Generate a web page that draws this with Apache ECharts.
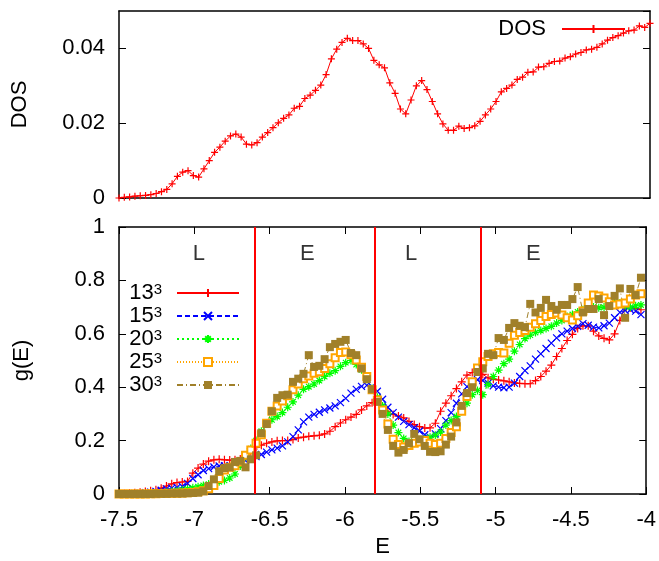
<!DOCTYPE html>
<html>
<head>
<meta charset="utf-8">
<script src="https://cdn.jsdelivr.net/npm/echarts@6/dist/echarts.min.js"></script>
<style>
  html, body { margin: 0; padding: 0; background: #fff; }
  #chart { width: 659px; height: 561px; }
</style>
</head>
<body>
<div id="chart"></div>
<script>
// energy grid shared by all curves
const E = [
  -7.5, -7.465, -7.43, -7.395, -7.36, -7.325, -7.29, -7.255, -7.22, -7.185,
  -7.15, -7.115, -7.08, -7.045, -7.01, -6.975, -6.94, -6.905, -6.87, -6.835,
  -6.8, -6.765, -6.73, -6.695, -6.66, -6.625, -6.59, -6.555, -6.52, -6.485,
  -6.45, -6.415, -6.38, -6.345, -6.31, -6.275, -6.24, -6.205, -6.17, -6.135,
  -6.1, -6.065, -6.03, -5.995, -5.96, -5.925, -5.89, -5.855, -5.82, -5.785,
  -5.75, -5.715, -5.68, -5.645, -5.61, -5.575, -5.54, -5.505, -5.47, -5.435,
  -5.4, -5.365, -5.33, -5.295, -5.26, -5.225, -5.19, -5.155, -5.12, -5.085,
  -5.05, -5.015, -4.98, -4.945, -4.91, -4.875, -4.84, -4.805, -4.77, -4.735,
  -4.7, -4.665, -4.63, -4.595, -4.56, -4.525, -4.49, -4.455, -4.42, -4.385,
  -4.35, -4.315, -4.28, -4.245, -4.21, -4.175, -4.14, -4.105, -4.07, -4.035, -4.0
];

const dos = [
  0.0000, 0.0002, 0.0003, 0.0005, 0.0006, 0.0007, 0.0009, 0.0012, 0.0017, 0.0023,
  0.0038, 0.0058, 0.0069, 0.0073, 0.0060, 0.0056, 0.0078, 0.0100, 0.0122, 0.0136,
  0.0152, 0.0166, 0.0171, 0.0163, 0.0144, 0.0142, 0.0148, 0.0163, 0.0175, 0.0188,
  0.0201, 0.0213, 0.0222, 0.0240, 0.0245, 0.0266, 0.0275, 0.0288, 0.0302, 0.0330,
  0.0372, 0.0398, 0.0416, 0.0427, 0.0421, 0.0421, 0.0412, 0.0400, 0.0368, 0.0356,
  0.0348, 0.0308, 0.0280, 0.0238, 0.0225, 0.0262, 0.0300, 0.0314, 0.0290, 0.0258,
  0.0225, 0.0198, 0.0181, 0.0181, 0.0192, 0.0186, 0.0188, 0.0193, 0.0205, 0.0222,
  0.0238, 0.0258, 0.0284, 0.0293, 0.0302, 0.0317, 0.0323, 0.0336, 0.0337, 0.0350,
  0.0351, 0.0360, 0.0365, 0.0366, 0.0374, 0.0378, 0.0385, 0.0389, 0.0396, 0.0398,
  0.0403, 0.0412, 0.0422, 0.0429, 0.0434, 0.0441, 0.0447, 0.0449, 0.0460, 0.0456, 0.0467
];

const g13 = [
  0.000, 0.002, 0.003, 0.005, 0.007, 0.009, 0.012, 0.016, 0.022, 0.030,
  0.038, 0.043, 0.045, 0.047, 0.078, 0.097, 0.112, 0.123, 0.128, 0.130,
  0.128, 0.127, 0.128, 0.131, 0.143, 0.158, 0.175, 0.183, 0.190, 0.195,
  0.199, 0.200, 0.200, 0.204, 0.210, 0.213, 0.216, 0.218, 0.220, 0.225,
  0.235, 0.252, 0.266, 0.278, 0.288, 0.298, 0.315, 0.330, 0.342, 0.348,
  0.325, 0.310, 0.298, 0.292, 0.285, 0.272, 0.260, 0.252, 0.247, 0.248,
  0.265, 0.310, 0.340, 0.368, 0.395, 0.420, 0.445, 0.455, 0.458, 0.448,
  0.435, 0.430, 0.427, 0.424, 0.420, 0.416, 0.414, 0.413, 0.413, 0.425,
  0.440, 0.460, 0.483, 0.515, 0.545, 0.575, 0.598, 0.620, 0.630, 0.630,
  0.610, 0.592, 0.583, 0.577, 0.600, 0.650, 0.700, 0.698, 0.695, 0.690
];

const g15 = [
  0.000, 0.000, 0.001, 0.002, 0.003, 0.005, 0.007, 0.010, 0.014, 0.019,
  0.022, 0.025, 0.028, 0.040, 0.058, 0.072, 0.088, 0.095, 0.101, 0.105,
  0.106, 0.105, 0.107, 0.115, 0.125, 0.132, 0.140, 0.148, 0.157, 0.165,
  0.172, 0.180, 0.195, 0.215, 0.240, 0.270, 0.288, 0.298, 0.306, 0.315,
  0.322, 0.330, 0.342, 0.358, 0.378, 0.392, 0.403, 0.407, 0.402, 0.385,
  0.355, 0.325, 0.305, 0.288, 0.272, 0.260, 0.248, 0.236, 0.222, 0.213,
  0.225, 0.245, 0.275, 0.305, 0.340, 0.375, 0.402, 0.420, 0.428, 0.425,
  0.415, 0.405, 0.400, 0.398, 0.400, 0.415, 0.440, 0.462, 0.480, 0.505,
  0.525, 0.545, 0.565, 0.585, 0.600, 0.610, 0.620, 0.628, 0.638, 0.632,
  0.625, 0.622, 0.630, 0.640, 0.660, 0.680, 0.688, 0.690, 0.685, 0.672
];

const g20 = [
  0.000, 0.000, 0.000, 0.001, 0.001, 0.002, 0.003, 0.004, 0.005, 0.007,
  0.009, 0.012, 0.015, 0.019, 0.023, 0.027, 0.032, 0.037, 0.042, 0.046,
  0.051, 0.060, 0.075, 0.105, 0.140, 0.170, 0.200, 0.235, 0.265, 0.278,
  0.290, 0.305, 0.325, 0.345, 0.370, 0.392, 0.402, 0.412, 0.425, 0.440,
  0.452, 0.462, 0.478, 0.492, 0.500, 0.485, 0.465, 0.430, 0.395, 0.362,
  0.330, 0.300, 0.258, 0.230, 0.208, 0.197, 0.190, 0.195, 0.205, 0.213,
  0.220, 0.232, 0.258, 0.275, 0.290, 0.310, 0.340, 0.372, 0.388, 0.372,
  0.410, 0.440, 0.464, 0.488, 0.505, 0.535, 0.560, 0.582, 0.595, 0.605,
  0.612, 0.620, 0.628, 0.640, 0.650, 0.665, 0.672, 0.682, 0.690, 0.697,
  0.700, 0.698, 0.700, 0.710, 0.720, 0.715, 0.705, 0.700, 0.705, 0.708
];

const g25 = [
  0.000, 0.000, 0.000, 0.000, 0.000, 0.000, 0.001, 0.001, 0.002, 0.002,
  0.003, 0.003, 0.004, 0.005, 0.006, 0.008, 0.012, 0.020, 0.032, 0.058,
  0.090, 0.100, 0.106, 0.120, 0.145, 0.165, 0.190, 0.222, 0.265, 0.310,
  0.330, 0.348, 0.368, 0.390, 0.412, 0.432, 0.442, 0.452, 0.458, 0.470,
  0.488, 0.510, 0.530, 0.532, 0.522, 0.502, 0.475, 0.440, 0.390, 0.352,
  0.315, 0.262, 0.205, 0.185, 0.176, 0.182, 0.190, 0.195, 0.200, 0.190,
  0.185, 0.190, 0.208, 0.230, 0.252, 0.310, 0.365, 0.420, 0.472, 0.495,
  0.515, 0.525, 0.530, 0.528, 0.565, 0.595, 0.605, 0.612, 0.625, 0.638,
  0.650, 0.665, 0.672, 0.678, 0.670, 0.660, 0.652, 0.668, 0.685, 0.715,
  0.745, 0.742, 0.734, 0.720, 0.708, 0.712, 0.715, 0.730, 0.745, 0.750
];

const g30 = [
  0.000, 0.000, 0.000, 0.000, 0.000, 0.000, 0.000, 0.001, 0.001, 0.001,
  0.002, 0.002, 0.002, 0.003, 0.004, 0.005, 0.010, 0.030, 0.055, 0.085,
  0.097, 0.100, 0.120, 0.124, 0.100, 0.130, 0.145, 0.228, 0.262, 0.310,
  0.360, 0.370, 0.372, 0.420, 0.432, 0.450, 0.520, 0.476, 0.480, 0.505,
  0.550, 0.562, 0.570, 0.577, 0.528, 0.520, 0.470, 0.430, 0.392, 0.345,
  0.300, 0.240, 0.180, 0.155, 0.165, 0.190, 0.225, 0.205, 0.180, 0.158,
  0.157, 0.160, 0.185, 0.215, 0.268, 0.330, 0.378, 0.400, 0.457, 0.470,
  0.525, 0.520, 0.584, 0.577, 0.622, 0.640, 0.630, 0.625, 0.712, 0.680,
  0.697, 0.727, 0.704, 0.690, 0.708, 0.708, 0.730, 0.775, 0.680, 0.693,
  0.693, 0.730, 0.670, 0.704, 0.742, 0.770, 0.660, 0.768, 0.745, 0.810
];

const sizeNames = ['13', '15', '20', '25', '30'];
const boundaries = [-6.6, -5.8, -5.1];
const regionNames = ['L', 'E', 'L', 'E'];
const regionE = [-6.97, -6.25, -5.56, -4.75];
const regionY = 0.9;

const FONT = "'Liberation Sans', Arial, sans-serif";
const FS = 22;
const BLACK = '#000';

const pts = (ys) => ys.map((y, i) => [E[i], y]);

const chart = echarts.init(document.getElementById('chart'), null, { renderer: 'canvas' });

function xAx(grid, pos, labels, extra) {
  return Object.assign({
    type: 'value', gridIndex: grid, position: pos,
    min: -7.5, max: -4, interval: 0.5,
    axisLine: { show: true, onZero: false, lineStyle: { color: BLACK, width: 1.5 } },
    axisTick: { show: grid === 1, inside: true, length: 7, lineStyle: { color: BLACK, width: 1 } },
    axisLabel: { show: labels, color: BLACK, fontSize: FS, fontFamily: FONT, margin: 15 },
    splitLine: { show: false }
  }, extra || {});
}

function yAx(grid, pos, labels, max, interval, extra) {
  return Object.assign({
    type: 'value', gridIndex: grid, position: pos,
    min: 0, max: max, interval: interval,
    axisLine: { show: true, onZero: false, lineStyle: { color: BLACK, width: 1.5 } },
    axisTick: { show: true, inside: true, length: 7, lineStyle: { color: BLACK, width: 1 } },
    axisLabel: { show: labels, color: BLACK, fontSize: FS, fontFamily: FONT, margin: 14, showMaxLabel: max === 1 },
    splitLine: { show: false }
  }, extra || {});
}

const nameStyle = { color: BLACK, fontSize: FS, fontFamily: FONT };

const plusPath = 'path://M0,5L10,5M5,0L5,10';
const crossPath = 'path://M0,0L10,10M10,0L0,10';
const starPath = 'path://M5,0L5,10M0,5L10,5M1.5,1.5L8.5,8.5M8.5,1.5L1.5,8.5';

function gSeries(name, ys, color, dash, symbol, size, itemStyle) {
  return {
    name: name, type: 'line', xAxisIndex: 2, yAxisIndex: 2,
    data: pts(ys), symbol: symbol, symbolSize: size, showAllSymbol: true,
    lineStyle: { color: color, width: 1, type: dash },
    itemStyle: itemStyle,
    emphasis: { disabled: true }
  };
}

const option = {
  animation: false,
  backgroundColor: '#fff',
  grid: [
    { left: 119, top: 11, width: 531, height: 187 },
    { left: 119, top: 227, width: 531, height: 267 }
  ],
  xAxis: [
    xAx(0, 'bottom', false),
    xAx(0, 'top', false),
    xAx(1, 'bottom', true, { name: 'E', nameLocation: 'middle', nameGap: 42, nameTextStyle: nameStyle }),
    xAx(1, 'top', false)
  ],
  yAxis: [
    yAx(0, 'left', true, 0.05, 0.02, { name: 'DOS', nameLocation: 'middle', nameGap: 88, nameTextStyle: nameStyle }),
    yAx(0, 'right', false, 0.05, 0.02),
    yAx(1, 'left', true, 1, 0.2, { name: 'g(E)', nameLocation: 'middle', nameGap: 86, nameTextStyle: nameStyle }),
    yAx(1, 'right', false, 1, 0.2)
  ],
  legend: [
    {
      data: ['DOS'], right: 33, top: 18, padding: 0,
      align: 'right', itemWidth: 63, itemHeight: 10,
      textStyle: { color: BLACK, fontSize: FS, fontFamily: FONT, lineHeight: 22, padding: [0, 11, 0, 0] }
    },
    {
      data: sizeNames, orient: 'vertical', right: 419, top: 282, padding: 0,
      align: 'right', itemWidth: 62, itemHeight: 10, itemGap: 1,
      formatter: (n) => '{n|' + n + '}{s|3}',
      textStyle: {
        color: BLACK, fontFamily: FONT, padding: [0, 10, 0, 0],
        rich: {
          n: { fontSize: FS, lineHeight: 22, fontFamily: FONT, color: BLACK },
          s: { fontSize: 15, lineHeight: 13, verticalAlign: 'top', fontFamily: FONT, color: BLACK }
        }
      }
    }
  ],
  series: [
    {
      name: 'DOS', type: 'line', xAxisIndex: 0, yAxisIndex: 0,
      data: dos.map((v, i) => [E[i], v]),
      symbol: plusPath, symbolSize: 7, showAllSymbol: true,
      lineStyle: { color: '#ff0000', width: 1 },
      itemStyle: { color: '#ff0000', borderColor: '#ff0000', borderWidth: 1.2 },
      emphasis: { disabled: true }
    },
    {
      name: 'regions', type: 'scatter', xAxisIndex: 2, yAxisIndex: 2,
      symbolSize: 0,
      data: regionNames.map((t, i) => ({ name: t, value: [regionE[i], regionY] })),
      label: { show: true, position: 'inside', formatter: '{b}', color: BLACK, fontSize: FS, fontFamily: FONT },
      markLine: {
        silent: true, symbol: ['none', 'none'], label: { show: false },
        lineStyle: { color: '#ff0000', width: 2, type: 'solid' },
        data: boundaries.map((x) => ({ xAxis: x }))
      },
      emphasis: { disabled: true }
    },
    gSeries('13', g13, '#ff0000', 'solid', plusPath, 8,
      { color: '#ff0000', borderColor: '#ff0000', borderWidth: 1.2 }),
    gSeries('15', g15, '#0000ff', [5, 3], crossPath, 7,
      { color: '#0000ff', borderColor: '#0000ff', borderWidth: 1.2 }),
    gSeries('20', g20, '#00ff00', [2, 3], starPath, 8,
      { color: '#00ff00', borderColor: '#00ff00', borderWidth: 1.2 }),
    gSeries('25', g25, '#ffa500', [1, 2], 'emptyRect', 7,
      { color: '#ffa500', borderColor: '#ffa500', borderWidth: 1.2 }),
    gSeries('30', g30, '#a0802a', [6, 3, 1, 3], 'rect', 8,
      { color: '#a0802a', borderWidth: 0 })
  ]
};

chart.setOption(option);
</script>
</body>
</html>
